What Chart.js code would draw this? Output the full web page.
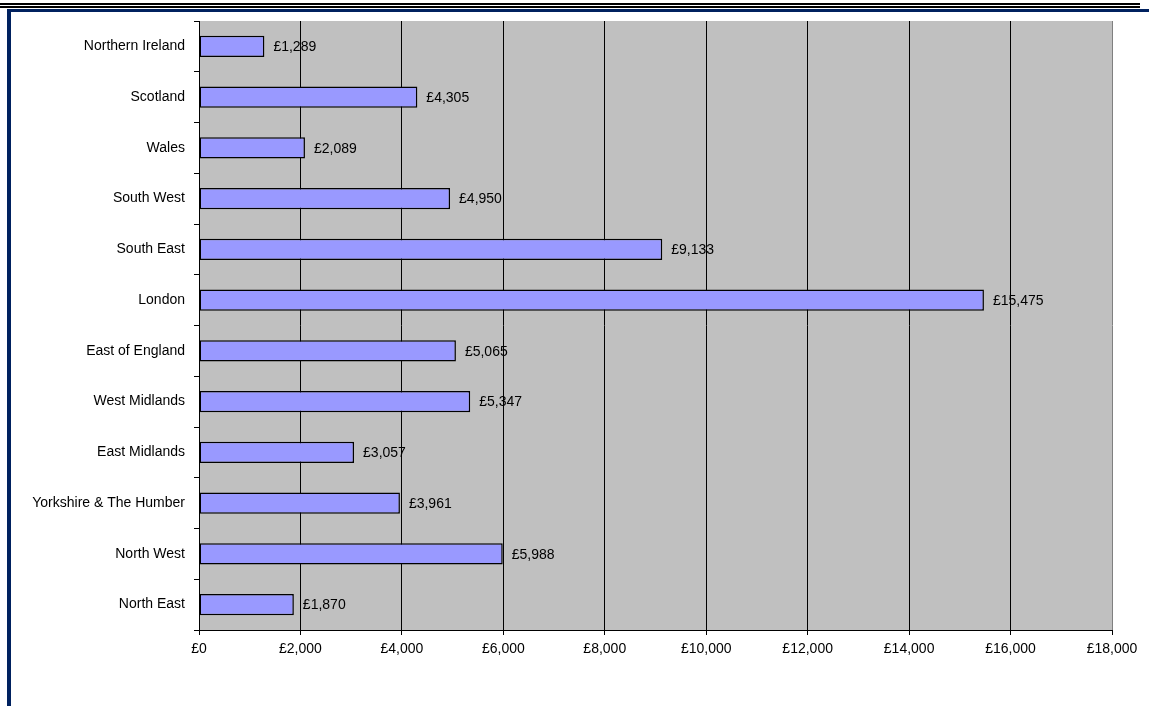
<!DOCTYPE html>
<html>
<head>
<meta charset="utf-8">
<script src="https://cdn.jsdelivr.net/npm/chart.js@4/dist/chart.umd.min.js"></script>
<style>
  html, body { margin: 0; padding: 0; background: #fff; }
  #wrap { position: relative; width: 1149px; height: 706px; }
</style>
</head>
<body>
<div id="wrap"><canvas id="c" width="1149" height="706"></canvas></div>
<script>
// Regions listed top to bottom as they appear on the chart
const regions = [
  'Northern Ireland', 'Scotland', 'Wales', 'South West', 'South East', 'London',
  'East of England', 'West Midlands', 'East Midlands', 'Yorkshire & The Humber',
  'North West', 'North East'
];
const amounts = [1289, 4305, 2089, 4950, 9133, 15475, 5065, 5347, 3057, 3961, 5988, 1870];
const xTicks = [0, 2000, 4000, 6000, 8000, 10000, 12000, 14000, 16000, 18000];

const FONT = "'Liberation Sans', Arial, sans-serif";
const money = v => '£' + Number(v).toLocaleString('en-GB');

// Page frame: double rule along the top, navy rule and left bar
const framePlugin = {
  id: 'frame',
  beforeDraw(chart) {
    const ctx = chart.ctx;
    ctx.save();
    ctx.fillStyle = '#fff';
    ctx.fillRect(0, 0, chart.width, chart.height);
    ctx.fillStyle = '#000';
    ctx.fillRect(0, 3, 1140, 2);
    ctx.fillRect(0, 6, 1140, 2);
    ctx.fillStyle = '#00215f';
    ctx.fillRect(7, 9, 1142, 3);
    ctx.fillRect(7, 9, 4, 697);
    // grey plot area
    const a = chart.chartArea;
    ctx.fillStyle = '#c0c0c0';
    ctx.fillRect(a.left, a.top, a.right - a.left, a.bottom - a.top);
    ctx.restore();
  }
};

// Value labels to the right of each bar
const valueLabels = {
  id: 'valueLabels',
  afterDatasetsDraw(chart) {
    const ctx = chart.ctx;
    const meta = chart.getDatasetMeta(0);
    ctx.save();
    ctx.font = '14px ' + FONT;
    ctx.fillStyle = '#000';
    ctx.textAlign = 'left';
    ctx.textBaseline = 'middle';
    meta.data.forEach((bar, i) => {
      ctx.fillText(money(amounts[i]), bar.x + 9, bar.y + 1);
    });
    ctx.restore();
  }
};

new Chart(document.getElementById('c'), {
  type: 'bar',
  data: {
    labels: regions,
    datasets: [{
      data: amounts,
      backgroundColor: '#9999ff',
      borderColor: '#000',
      borderWidth: 1.5,
      borderSkipped: false,
      categoryPercentage: 0.46,
      barPercentage: 0.9
    }]
  },
  options: {
    indexAxis: 'y',
    responsive: false,
    animation: false,
    devicePixelRatio: 1,
    layout: { padding: { top: 21, right: 37, left: 0, bottom: 0 } },
    plugins: { legend: { display: false }, tooltip: { enabled: false } },
    scales: {
      x: {
        min: 0,
        max: 18000,
        afterBuildTicks(scale) { scale.ticks = xTicks.map(v => ({ value: v })); },
        afterFit(scale) { scale.height = 76; },
        ticks: {
          callback: v => money(v),
          color: '#000',
          font: { family: FONT, size: 14 },
          padding: 6,
          maxRotation: 0,
          autoSkip: false
        },
        grid: {
          color: ctx => ctx.tick && ctx.tick.value === 18000 ? '#808080' : '#000',
          lineWidth: 1,
          drawTicks: true,
          tickLength: 5,
          tickColor: '#000'
        },
        border: { color: '#000', width: 1 }
      },
      y: {
        afterFit(scale) { scale.width = 199; },
        ticks: {
          color: '#000',
          font: { family: FONT, size: 14 },
          padding: 9,
          autoSkip: false
        },
        grid: {
          offset: true,
          drawOnChartArea: false,
          drawTicks: true,
          tickLength: 5,
          tickColor: '#000'
        },
        border: { color: '#000', width: 1 }
      }
    }
  },
  plugins: [framePlugin, valueLabels]
});
</script>
</body>
</html>
